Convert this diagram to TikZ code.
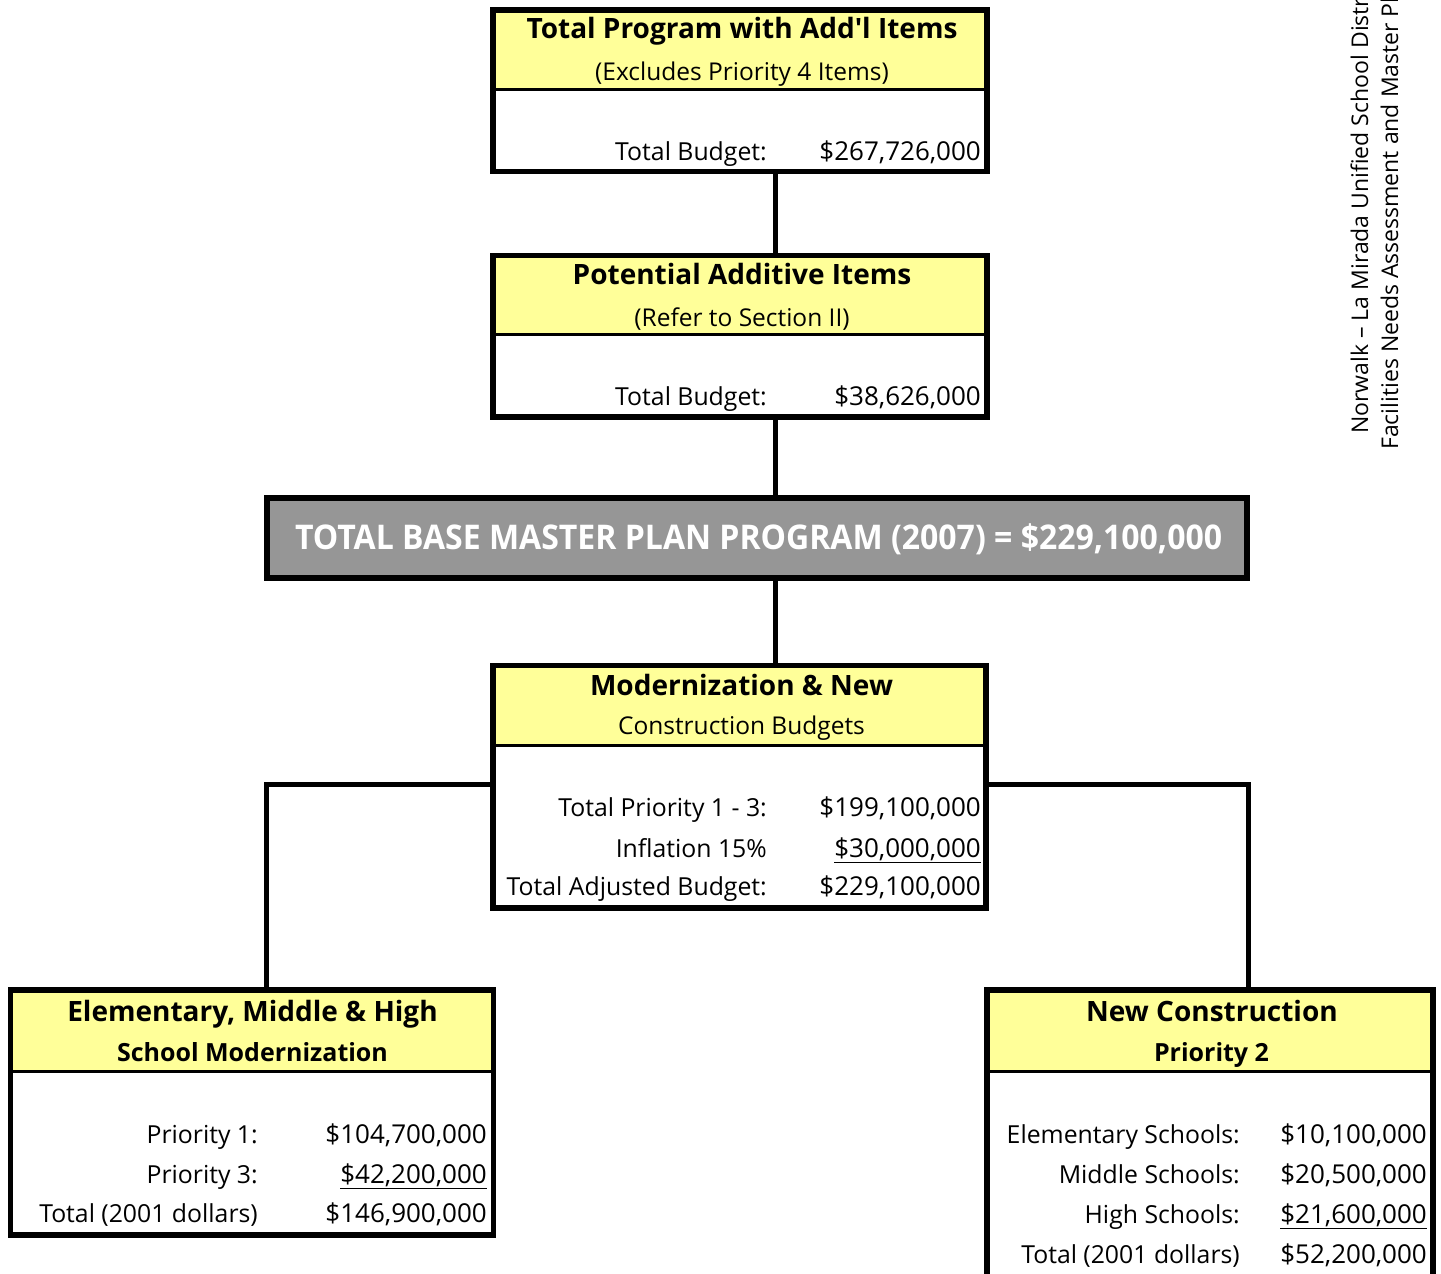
\documentclass[tikz,border=0pt]{standalone}
\usepackage{fontspec}
\setmainfont{Open Sans}
\usetikzlibrary{backgrounds}
\definecolor{hdryellow}{HTML}{FFFF99}
\definecolor{bargray}{HTML}{969696}
\begin{document}
\begin{tikzpicture}[x=1pt,y=-1pt,
  box/.style={draw=black, line width=5.5pt, outer sep=0pt, inner sep=0pt, rectangle},
  conn/.style={draw=black, line width=5pt},
  sepline/.style={draw=black, line width=3pt},
  hdr/.style={fill=hdryellow},
  ttl/.style={font=\bfseries\fontsize{28}{32}\selectfont, anchor=base, inner sep=0pt},
  ttlb/.style={font=\bfseries\fontsize{25}{29}\selectfont, anchor=base, inner sep=0pt},
  sub/.style={font=\fontsize{24.5}{28}\selectfont, anchor=base, inner sep=0pt},
  lbl/.style={font=\fontsize{24.8}{28}\selectfont, anchor=base east, inner sep=0pt},
  val/.style={font=\fontsize{26}{30}\selectfont, anchor=base east, inner sep=0pt},
  side/.style={font=\fontsize{23}{27}\selectfont, anchor=base west, rotate=90, inner sep=0pt},
]
\useasboundingbox (0,0) rectangle (1441,1274);
\clip (0,0) rectangle (1441,1274);

% coordinates for connector bends
\coordinate (spine) at (775,0);
\coordinate (lturn) at (266.5,784);
\coordinate (rturn) at (1248,784);

% boxes
\node[box, minimum width=494pt, minimum height=161.5pt] (b1) at (740,90.75) {};
\node[box, minimum width=494pt, minimum height=161.5pt] (b2) at (740,336.25) {};
\node[box, fill=bargray, line width=6pt, minimum width=980pt, minimum height=80pt] (bar) at (757,537.5) {};
\node[box, minimum width=493pt, minimum height=242.5pt] (b4) at (739.5,786.75) {};
\node[box, minimum width=483pt, minimum height=245pt] (b5) at (252,1112.5) {};
\node[box, minimum width=446pt, minimum height=310pt] (b6) at (1210,1145) {};

% header fills and separators
\begin{scope}[on background layer]
  \fill[white] (0,0) rectangle (1441,1274);
  \fill[hdr] (b1.north west) rectangle (b1.east |- 0,89);
  \fill[hdr] (b2.north west) rectangle (b2.east |- 0,334.5);
  \fill[hdr] (b4.north west) rectangle (b4.east |- 0,745);
  \fill[hdr] (b5.north west) rectangle (b5.east |- 0,1071);
  \fill[hdr] (b6.north west) rectangle (b6.east |- 0,1071);
\end{scope}
\draw[sepline] (b1.west |- 0,89) -- (b1.east |- 0,89);
\draw[sepline] (b2.west |- 0,334.5) -- (b2.east |- 0,334.5);
\draw[sepline] (b4.west |- 0,745) -- (b4.east |- 0,745);
\draw[sepline] (b5.west |- 0,1071) -- (b5.east |- 0,1071);
\draw[sepline] (b6.west |- 0,1071) -- (b6.east |- 0,1071);

% connectors
\draw[conn] (b1.south -| spine) -- (b2.north -| spine);
\draw[conn] (b2.south -| spine) -- (bar.north -| spine);
\draw[conn] (bar.south -| spine) -- (b4.north -| spine);
\draw[conn] (b4.west |- lturn) -| (b5.north -| lturn);
\draw[conn] (b4.east |- rturn) -| (b6.north -| rturn);

% box 1 text
\node[ttl] (t1a) at (742,38) {Total Program with Add\textquotesingle l Items};
\node[sub] (t1b) at (742,80.5) {(Excludes Priority 4 Items)};
\node[lbl] (t1c) at (767,160) {Total Budget:};
\node[val] (t1d) at (981,160) {\$267,726,000};

% box 2 text
\node[ttl] (t2a) at (742,284) {Potential Additive Items};
\node[sub] (t2b) at (742,326) {(Refer to Section II)};
\node[lbl] (t2c) at (767,405) {Total Budget:};
\node[val] (t2d) at (981,405) {\$38,626,000};

% bar text
\node[anchor=base, inner sep=0pt, text=white, font=\bfseries\fontsize{34}{40}\selectfont] (bart) at (758.5,549.5)
  {\resizebox{927pt}{\height}{TOTAL BASE MASTER PLAN PROGRAM (2007) = \$229,100,000}};

% box 4 text
\node[ttl] (t4a) at (741.5,695) {Modernization \& New};
\node[sub] (t4b) at (741.5,734) {Construction Budgets};
\node[lbl] (t4c) at (767,816.5) {Total Priority 1 - 3:};
\node[val] (t4d) at (981,816.5) {\$199,100,000};
\node[lbl] (t4e) at (767,857) {Inflation 15\%};
\node[val] (t4f) at (981,857) {\underline{\$30,000,000}};
\node[lbl] (t4g) at (767,895.5) {Total Adjusted Budget:};
\node[val] (t4h) at (981,895.5) {\$229,100,000};

% box 5 text
\node[ttl] (t5a) at (252.5,1021) {Elementary, Middle \& High};
\node[ttlb] (t5b) at (252.5,1061.5) {School Modernization};
\node[lbl] (t5c) at (258,1143) {Priority 1:};
\node[val] (t5d) at (487,1143) {\$104,700,000};
\node[lbl] (t5e) at (258,1183.5) {Priority 3:};
\node[val] (t5f) at (487,1183.5) {\underline{\$42,200,000}};
\node[lbl] (t5g) at (258,1222) {Total (2001 dollars)};
\node[val] (t5h) at (487,1222) {\$146,900,000};

% box 6 text
\node[ttl] (t6a) at (1212,1021) {New Construction};
\node[ttlb] (t6b) at (1211.5,1061.5) {Priority 2};
\node[lbl] (t6c) at (1240,1143) {Elementary Schools:};
\node[val] (t6d) at (1427,1143) {\$10,100,000};
\node[lbl] (t6e) at (1240,1183.5) {Middle Schools:};
\node[val] (t6f) at (1427,1183.5) {\$20,500,000};
\node[lbl] (t6g) at (1240,1223) {High Schools:};
\node[val] (t6h) at (1427,1223) {\underline{\$21,600,000}};
\node[lbl] (t6i) at (1240,1263) {Total (2001 dollars)};
\node[val] (t6j) at (1427,1263) {\$52,200,000};

% side header
\node[side] (s1) at (1368,434) {Norwalk – La Mirada Unified School District};
\node[side] (s2) at (1398,450) {Facilities Needs Assessment and Master Plan};
\end{tikzpicture}
\end{document}
